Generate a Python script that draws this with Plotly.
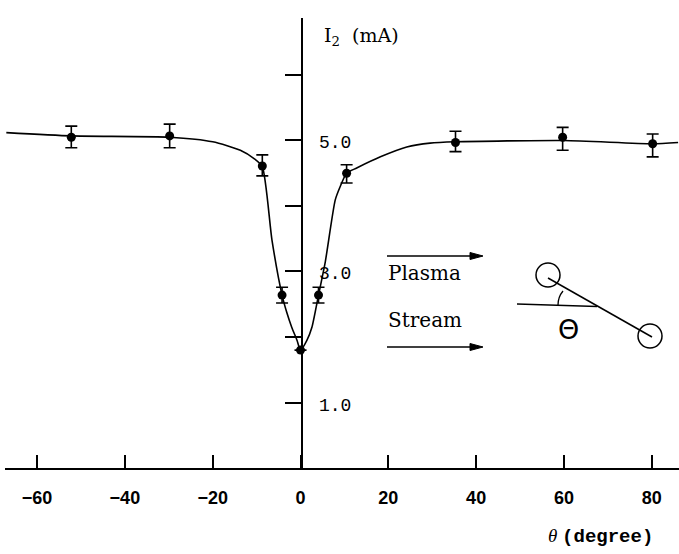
import plotly.graph_objects as go

# ---- data ----
theta = [-52.2, -29.8, -8.7, -4.2, 0.0, 4.1, 10.5, 35.3, 59.7, 80.2]
current = [5.05, 5.07, 4.61, 2.64, 1.80, 2.64, 4.50, 4.97, 5.05, 4.95]
err_up = [0.17, 0.18, 0.17, 0.12, 0.0, 0.12, 0.13, 0.17, 0.15, 0.15]
err_down = [0.16, 0.18, 0.15, 0.12, 0.0, 0.12, 0.15, 0.14, 0.20, 0.20]

curve_theta = [-67.0, -52.2, -29.8, -20.0, -13.7, -10.5, -8.7, -6.5, -4.2, -3.1, -2.0,
               -0.8, 0.0, 1.45, 2.6, 4.1, 5.6, 7.9, 9.0, 10.5, 12.8, 18.2, 24.2,
               29.5, 35.3, 60.0, 80.2, 86.0]
curve_current = [5.12, 5.07, 5.05, 4.98, 4.85, 4.72, 4.60, 3.48, 2.64, 2.37, 2.15,
                 1.95, 1.80, 1.95, 2.15, 2.64, 3.13, 4.09, 4.29, 4.50, 4.58, 4.75, 4.90,
                 4.96, 4.98, 5.00, 4.95, 4.97]

x_ticks = [-60, -40, -20, 0, 20, 40, 60, 80]
x_tick_text = ["\u221260", "\u221240", "\u221220", "0", "20", "40", "60", "80"]
y_ticks = [1, 2, 3, 4, 5, 6]
y_label_vals = [1, 3, 5]
y_label_text = ["1.0", "3.0", "5.0"]

# ---- layout geometry (pixels of the 679x554 page) ----
L, R, T, B = 5, 679, 18, 468
W, H = R - L, B - T
Y_MAX = 6.87


def px(x):
    return (x - L) / W


def py(y):
    return (B - y) / H


fig = go.Figure()

fig.add_trace(go.Scatter(
    x=curve_theta, y=curve_current, mode="lines",
    line=dict(color="black", width=1.6, shape="spline", smoothing=0.6),
    hoverinfo="skip", showlegend=False))

fig.add_trace(go.Scatter(
    x=theta, y=current, mode="markers",
    marker=dict(color="black", size=9),
    error_y=dict(type="data", symmetric=False, array=err_up, arrayminus=err_down,
                 color="black", thickness=1.6, width=6),
    showlegend=False))

serif = "DejaVu Serif"
sans = "Liberation Sans"
mono = "Liberation Mono"

annotations = [
    dict(x=px(322), y=py(36), xref="paper", yref="paper", xanchor="left", yanchor="middle",
         text="I<sub>2</sub>  (mA)", showarrow=False, font=dict(family=serif, size=19, color="black")),
    dict(x=px(546), y=py(536), xref="paper", yref="paper", xanchor="left", yanchor="middle",
         text="<i>\u03b8</i> <span style='font-family:Liberation Mono'><b>(degree)</b></span>",
         showarrow=False, font=dict(family="Liberation Serif", size=19, color="black")),
    dict(x=px(386), y=py(273), xref="paper", yref="paper", xanchor="left", yanchor="middle",
         text="Plasma", showarrow=False, font=dict(family=serif, size=20, color="black")),
    dict(x=px(386), y=py(320), xref="paper", yref="paper", xanchor="left", yanchor="middle",
         text="Stream", showarrow=False, font=dict(family=serif, size=20, color="black")),
    dict(x=px(568), y=py(329), xref="paper", yref="paper", xanchor="center", yanchor="middle",
         text="\u0398", showarrow=False, font=dict(family="DejaVu Sans", size=27, color="black")),
]
# y tick labels, placed to the right of the axis at their data value
for v, t in zip(y_label_vals, y_label_text):
    annotations.append(dict(
        x=0, y=v, xref="x", yref="y", xanchor="left", yanchor="top",
        xshift=16, yshift=9, text=t, showarrow=False,
        font=dict(family=mono, size=18, color="black")))

shapes = [
    dict(type="circle", xref="paper", yref="paper",
         x0=px(536), x1=px(560), y0=py(263), y1=py(287), line=dict(color="black", width=1.5)),
    dict(type="circle", xref="paper", yref="paper",
         x0=px(638), x1=px(662), y0=py(324), y1=py(348), line=dict(color="black", width=1.5)),
    dict(type="line", xref="paper", yref="paper",
         x0=px(548), y0=py(278), x1=px(652), y1=py(337), line=dict(color="black", width=1.5)),
    dict(type="line", xref="paper", yref="paper",
         x0=px(517), y0=py(304), x1=px(597), y1=py(306.5), line=dict(color="black", width=1.5)),
    dict(type="path", xref="paper", yref="paper",
         path=f"M {px(563)},{py(291)} Q {px(558)},{py(297)} {px(558)},{py(305)}",
         line=dict(color="black", width=1.3)),
]
# "Plasma Stream" flow arrows
for yy in (256, 347):
    shapes.append(dict(type="line", xref="paper", yref="paper",
                       x0=px(387), y0=py(yy), x1=px(474), y1=py(yy),
                       line=dict(color="black", width=1.5)))
    shapes.append(dict(type="path", xref="paper", yref="paper",
                       path=(f"M {px(483)},{py(yy)} L {px(470)},{py(yy - 3.5)} "
                             f"L {px(470)},{py(yy + 3.5)} Z"),
                       fillcolor="black", line=dict(color="black", width=1)))

fig.update_layout(
    width=679, height=554,
    margin=dict(l=L, r=679 - R, t=T, b=554 - B),
    paper_bgcolor="white", plot_bgcolor="white",
    showlegend=False,
    xaxis=dict(range=[-67.3, 86.2], showgrid=False, zeroline=False,
               showline=True, linecolor="black", linewidth=2,
               ticks="inside", ticklen=13, tickwidth=2, tickcolor="black",
               tickvals=x_ticks, ticktext=x_tick_text, ticklabelstandoff=12,
               tickfont=dict(family=sans, size=18, color="black", weight="bold")),
    yaxis=dict(range=[0, Y_MAX], showgrid=False, zeroline=False,
               anchor="free", position=px(301.5),
               showline=True, linecolor="black", linewidth=2,
               ticks="outside", ticklen=16, tickwidth=2, tickcolor="black",
               tickvals=y_ticks, showticklabels=False),
    annotations=annotations,
    shapes=shapes,
)

fig.write_html("out.html")
